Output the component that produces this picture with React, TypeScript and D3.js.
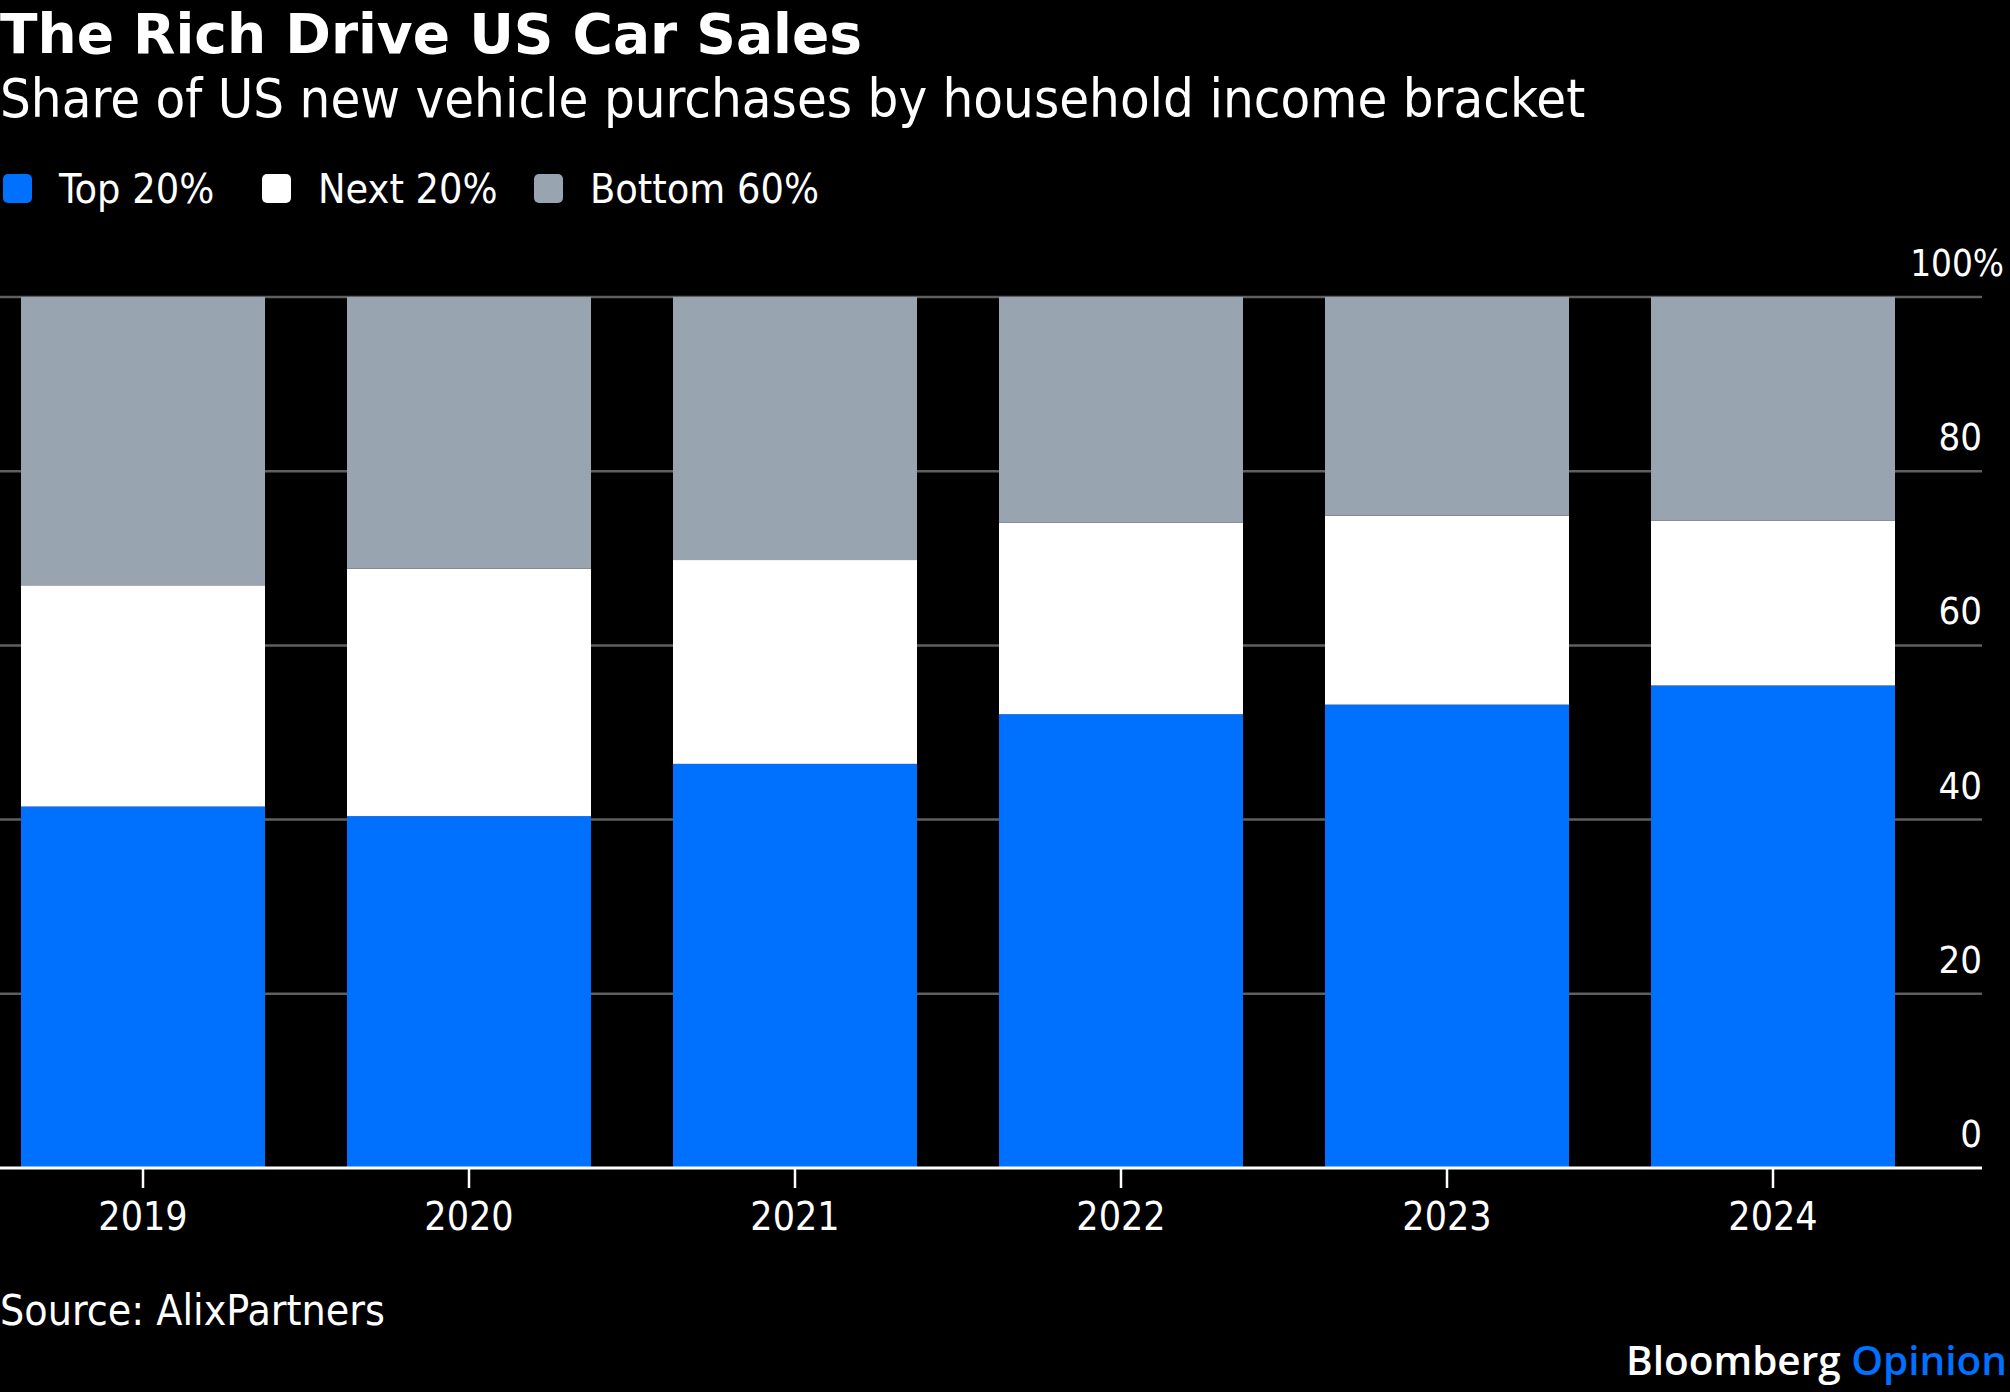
import * as d3 from "d3";

const years = ["2019", "2020", "2021", "2022", "2023", "2024"];
const top20 = [41.5, 40.4, 46.4, 52.1, 53.2, 55.4];
const next20 = [25.4, 28.4, 23.4, 22.0, 21.7, 18.9];
const bottom60 = [33.1, 31.2, 30.2, 25.9, 25.1, 25.7];
const seriesNames = ["Top 20%", "Next 20%", "Bottom 60%"];
const seriesColors = ["#0070ff", "#ffffff", "#98a4b0"];
const yTicks = [0, 20, 40, 60, 80, 100];

const W = 2010;
const H = 1392;
const PLOT = { left: 21, right: 1895, gridEnd: 1982, top: 297, bottom: 1168 };

const COND = "'DejaVu Sans Condensed', 'DejaVu Sans', sans-serif";

const App = () => {
  const x = d3
    .scaleBand()
    .domain(years)
    .range([PLOT.left, PLOT.right])
    .paddingInner(0.2515)
    .paddingOuter(0);

  const y = d3.scaleLinear().domain([0, 100]).range([PLOT.bottom, PLOT.top]);

  const rows = years.map((year, i) => ({
    year,
    top: top20[i],
    next: next20[i],
    bottom: bottom60[i],
  }));
  const stacked = d3.stack<(typeof rows)[number]>().keys(["top", "next", "bottom"])(rows);

  const legendX = [3, 262, 534];

  return (
    <svg
      width={W}
      height={H}
      style={{ position: "absolute", left: 0, top: 0, background: "#000" }}
    >
      <rect width={W} height={H} fill="#000" />

      <text
        x={0}
        y={53}
        fill="#fff"
        fontFamily="'DejaVu Sans', sans-serif"
        fontWeight="bold"
        fontSize={55}
      >
        The Rich Drive US Car Sales
      </text>
      <text
        x={0}
        y={117}
        fill="#fff"
        fontFamily={COND}
        style={{ fontStretch: "condensed" }}
        fontSize={54}
      >
        Share of US new vehicle purchases by household income bracket
      </text>

      {/* legend */}
      {seriesNames.map((name, i) => (
        <g key={name}>
          <rect x={legendX[i]} y={174} width={29} height={29} rx={5} fill={seriesColors[i]} />
          <text
            x={legendX[i] + 56}
            y={203}
            fill="#fff"
            fontFamily={COND}
            style={{ fontStretch: "condensed" }}
            fontSize={41}
          >
            {name}
          </text>
        </g>
      ))}

      {/* gridlines */}
      {yTicks
        .filter((t) => t !== 0)
        .map((t) => (
          <line
            key={t}
            x1={0}
            x2={PLOT.gridEnd}
            y1={y(t)}
            y2={y(t)}
            stroke="#5f5f5f"
            strokeWidth={2.5}
          />
        ))}

      {/* bars */}
      {stacked.map((layer, li) =>
        layer.map((d) => (
          <rect
            key={`${li}-${d.data.year}`}
            x={x(d.data.year)}
            width={x.bandwidth()}
            y={y(d[1])}
            height={y(d[0]) - y(d[1])}
            fill={seriesColors[li]}
          />
        ))
      )}

      {/* baseline */}
      <line x1={0} x2={PLOT.gridEnd} y1={y(0)} y2={y(0)} stroke="#fff" strokeWidth={3} />

      {/* y labels */}
      {yTicks.map((t) => (
        <text
          key={`yl-${t}`}
          x={t === 100 ? 2004 : PLOT.gridEnd}
          y={y(t) - 21}
          textAnchor="end"
          fill="#fff"
          fontFamily={COND}
          style={{ fontStretch: "condensed" }}
          fontSize={t === 100 ? 36.5 : 38}
        >
          {t === 100 ? "100%" : t}
        </text>
      ))}

      {/* x ticks and labels */}
      {years.map((yr) => {
        const cx = (x(yr) ?? 0) + x.bandwidth() / 2;
        return (
          <g key={`xl-${yr}`}>
            <line x1={cx} x2={cx} y1={y(0) + 1} y2={y(0) + 20} stroke="#fff" strokeWidth={2.5} />
            <text
              x={cx}
              y={1230}
              textAnchor="middle"
              fill="#fff"
              fontFamily={COND}
              style={{ fontStretch: "condensed" }}
              fontSize={39}
            >
              {yr}
            </text>
          </g>
        );
      })}

      <text
        x={0}
        y={1325}
        fill="#fff"
        fontFamily={COND}
        style={{ fontStretch: "condensed" }}
        fontSize={42.5}
      >
        Source: AlixPartners
      </text>

      <text
        x={2007}
        y={1375}
        textAnchor="end"
        fontFamily="'Open Sans', Lato, sans-serif"
        fontWeight={600}
        fontSize={40.5}
      >
        <tspan fill="#fff">Bloomberg </tspan>
        <tspan fill="#0070ff">Opinion</tspan>
      </text>
    </svg>
  );
};

export default App;
